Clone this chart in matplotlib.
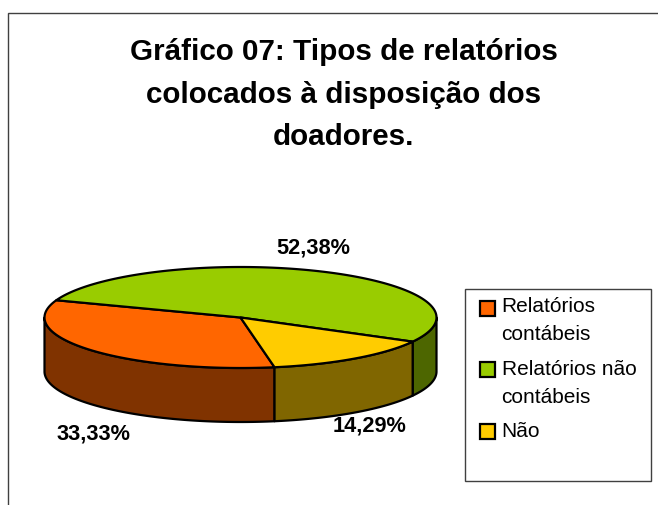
import numpy as np
import matplotlib
matplotlib.use("Agg")
import matplotlib.pyplot as plt
from matplotlib.patches import Polygon, Rectangle

plt.rcParams['font.family'] = ['Liberation Sans', 'DejaVu Sans']

categories = ["Relatórios\ncontábeis", "Relatórios não\ncontábeis", "Não"]
values = [33.33, 52.38, 14.29]
value_labels = ["33,33%", "52,38%", "14,29%"]
top_colors = ["#FF6600", "#99CC00", "#FFCC00"]
side_colors = ["#803300", "#4D6600", "#806600"]
title = "Gráfico 07: Tipos de relatórios\ncolocados à disposição dos\ndoadores."

W, H = 658, 506
cx, cy, rx, ry, depth = 240.5, 318.5, 196, 50.5, 54
start_deg = 280.0          # slices run clockwise from here
label_pos = [(93, 434), (313, 248), (369, 426)]
legend_swatch_top = [302, 363, 425]
legend_text_y = [321, 384, 432]

fig = plt.figure(figsize=(W / 100, H / 100), dpi=100, facecolor="white")
ax = fig.add_axes([0, 0, 1, 1])
ax.set_xlim(0, W)
ax.set_ylim(H, 0)
ax.axis("off")

# chart-area frame (top and left edges only are inside the image)
ax.plot([8, 8, W], [H, 14, 14], color="#404040", lw=1.0, solid_joinstyle="miter")


def arc(a0, a1, dy=0.0):
    t = np.radians(np.linspace(a0, a1, max(int(abs(a1 - a0)) * 2, 2)))
    return np.column_stack([cx + rx * np.cos(t), cy + dy - ry * np.sin(t)])


edge = dict(edgecolor="black", linewidth=1.6, joinstyle="round")
fractions = np.array(values) / sum(values) * 360
highs = start_deg - np.concatenate([[0], np.cumsum(fractions)[:-1]])
lows = highs - fractions

# side walls: the front of the disc is the 180-360 degree range
for a0, a1, col in zip(lows, highs, side_colors):
    for k in (-360, 0):
        lo, hi = max(a0, 180 + k), min(a1, 360 + k)
        if hi > lo:
            poly = np.vstack([arc(lo, hi), arc(hi, lo, depth)])
            ax.add_patch(Polygon(poly, closed=True, facecolor=col, zorder=2, **edge))

# top face
for a0, a1, col in zip(lows, highs, top_colors):
    poly = np.vstack([[[cx, cy]], arc(a0, a1)])
    ax.add_patch(Polygon(poly, closed=True, facecolor=col, zorder=3, **edge))

for (x, y), s in zip(label_pos, value_labels):
    ax.text(x + 0.5, y, s, ha="center", va="center", fontsize=15.7, fontweight="bold",
            color="black", zorder=5)

ax.text(343.5, 94.5, title, ha="center", va="center", fontsize=21.3, fontweight="bold",
        linespacing=1.64, color="black")

# legend
ax.add_patch(Rectangle((465, 290), 186, 192, facecolor="white", edgecolor="#404040",
                       linewidth=1.0, zorder=4))
for name, col, top, ty in zip(categories, top_colors, legend_swatch_top, legend_text_y):
    ax.add_patch(Rectangle((480, top), 15, 15, facecolor=col, edgecolor="black",
                           linewidth=1.6, zorder=5))
    ax.text(501.5, ty, name, ha="left", va="center", fontsize=15, linespacing=1.6,
            color="black", zorder=5)

fig.savefig("out.png", dpi=100, facecolor="white")
